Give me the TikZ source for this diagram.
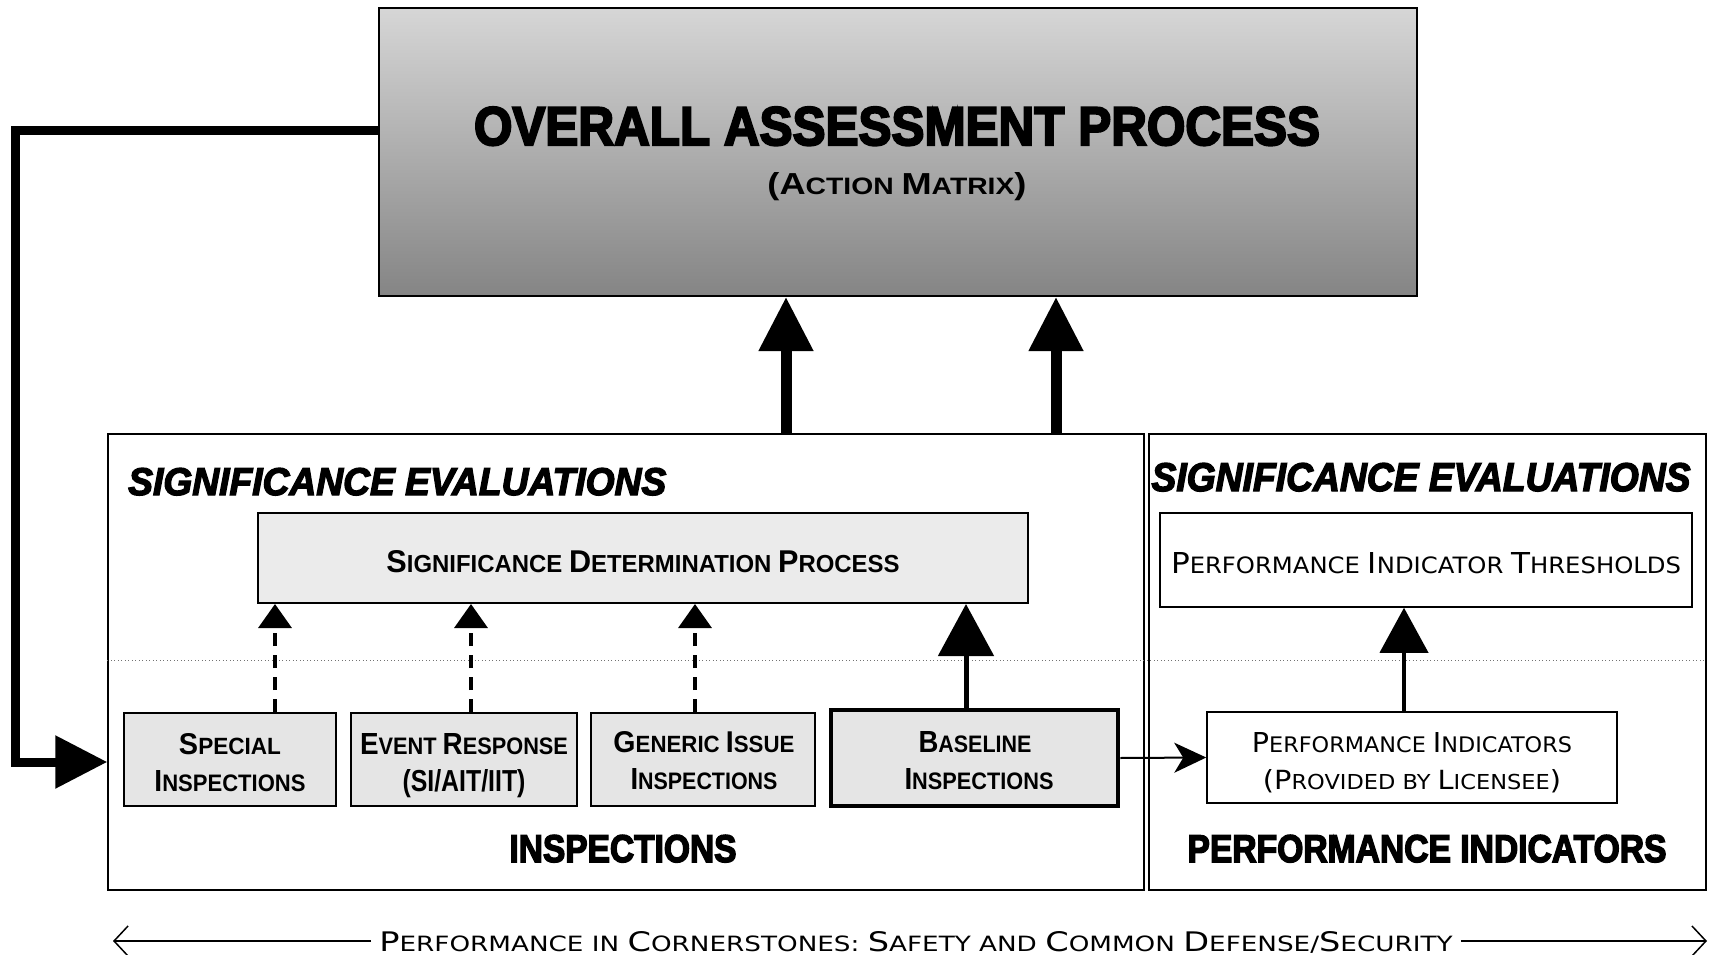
\documentclass[tikz,border=0pt]{standalone}
\usepackage{graphicx}
\usepackage{fontspec}
\usetikzlibrary{arrows.meta}
\setmainfont{Liberation Sans}
\newfontface\heavy{Liberation Sans Bold}[FakeBold=4]
\newfontface\heavyit{Liberation Sans Bold Italic}[FakeBold=3.5]
\newfontface\scbface{Liberation Sans Bold}
\newfontface\scrface{DejaVu Sans}
\newcommand\B[1]{{\fontsize{12.8}{14}\selectfont #1}}
\newcommand\SCB[1]{{\scbface\fontsize{10}{12}\selectfont #1}}
\newcommand\SCR[1]{{\scrface\fontsize{10}{12}\selectfont #1}}
\newcommand\fitt[3]{\resizebox{#1pt}{#2pt}{#3}}
\begin{document}
\begin{tikzpicture}[x=1pt,y=-1pt,
  gbox/.style={draw, line width=2pt, inner sep=0pt, fill=black!10},
  wbox/.style={draw, line width=1.5pt, inner sep=0pt, fill=white},
  txt/.style={inner sep=0pt, anchor=base},
  bigarrow/.style={line width=11pt, -{Triangle[length=54pt,width=52pt]}},
  fbarrow/.style={line width=9pt, line join=miter, -{Triangle[length=52pt,width=51pt]}},
  basearrow/.style={line width=5pt, -{Triangle[length=52pt,width=55pt]}},
  dasharrow/.style={line width=3.5pt, dash pattern=on 13pt off 9pt, -{Triangle[length=24pt,width=33pt]}},
  piarrow/.style={line width=4pt, -{Triangle[length=45pt,width=48pt]}},
  thinarrow/.style={line width=2pt, -{Stealth[length=32pt,width=30pt,inset=9pt]}},
  barb/.style={line width=1.5pt, -{Straight Barb[length=14pt,width=30pt,line width=1.5pt]}}
]
\useasboundingbox (0,0) rectangle (1714,955);

% top box
\node[draw, line width=2pt, inner sep=0pt, minimum width=1038pt, minimum height=288pt,
      top color=black!16, bottom color=black!48] (oap) at (898,152) {};
\node[txt] (title) at (897,145) {\fitt{846}{38}{\heavy OVERALL ASSESSMENT PROCESS}};
\node[txt] (action) at (897,194) {\fitt{259}{22}{\SCB{\B{(A}CTION \B{M}ATRIX\B{)}}}};

% lower frames
\node[wbox, fill=none, minimum width=1036pt, minimum height=456pt] (insp) at (626,662) {};
\node[wbox, fill=none, minimum width=557pt, minimum height=456pt] (pibox) at (1427.5,662) {};

% dotted separator
\draw[line width=1pt, black!55, dash pattern=on 1pt off 2.5pt] (insp.west |- 0,660) -- (pibox.east |- 0,660);

% section headings
\node[txt, anchor=base west] (se1) at (128,495) {\fitt{538}{27}{\heavyit SIGNIFICANCE EVALUATIONS}};
\node[txt] (se2) at (1421,491) {\fitt{539}{28}{\heavyit SIGNIFICANCE EVALUATIONS}};
\node[txt] (insph) at (623,862) {\fitt{227}{27}{\heavy INSPECTIONS}};
\node[txt] (pih) at (1427,862) {\fitt{479}{27}{\heavy PERFORMANCE INDICATORS}};

% SDP box
\node[gbox, fill=black!8, minimum width=770pt, minimum height=90pt] (sdp) at (643,558) {};
\node[txt] (sdpt) at (643,572) {\fitt{513}{22}{\SCB{\B{S}IGNIFICANCE \B{D}ETERMINATION \B{P}ROCESS}}};

% PIT box
\node[wbox, minimum width=532pt, minimum height=94pt] (pit) at (1426,560) {};
\node[txt] (pitt) at (1426,573) {\fitt{510}{21}{\SCR{\B{P}ERFORMANCE \B{I}NDICATOR \B{T}HRESHOLDS}}};

% inspection boxes
\node[gbox, minimum width=212pt, minimum height=93pt] (spec) at (230,759.5) {};
\node[txt] (spec1) at (230,754) {\fitt{102}{21}{\SCB{\B{S}PECIAL}}};
\node[txt] (spec2) at (230,791) {\fitt{151}{21}{\SCB{\B{I}NSPECTIONS}}};

\node[gbox, minimum width=226pt, minimum height=93pt] (evt) at (464,759.5) {};
\node[txt] (evt1) at (464,754) {\fitt{208}{21}{\SCB{\B{E}VENT \B{R}ESPONSE}}};
\node[txt] (evt2) at (464,791) {\fitt{123}{22}{\SCB{\B{(SI/AIT/IIT)}}}};

\node[gbox, minimum width=224pt, minimum height=93pt] (gen) at (703,759.5) {};
\node[txt] (gen1) at (704,752) {\fitt{181}{21}{\SCB{\B{G}ENERIC \B{I}SSUE}}};
\node[txt] (gen2) at (704,789) {\fitt{147}{21}{\SCB{\B{I}NSPECTIONS}}};

\node[gbox, line width=4.5pt, minimum width=287pt, minimum height=96pt] (base) at (974.5,758) {};
\node[txt] (base1) at (975,752) {\fitt{113}{21}{\SCB{\B{B}ASELINE}}};
\node[txt] (base2) at (979,789) {\fitt{149}{21}{\SCB{\B{I}NSPECTIONS}}};

% PI box
\node[wbox, minimum width=410pt, minimum height=91pt] (pi) at (1412,757.5) {};
\node[txt] (pi1) at (1412,752) {\fitt{320}{20}{\SCR{\B{P}ERFORMANCE \B{I}NDICATORS}}};
\node[txt] (pi2) at (1412,789) {\fitt{298}{20}{\SCR{\B{(P}ROVIDED BY \B{L}ICENSEE\B{)}}}};

% arrows
\draw[bigarrow] (786,0 |- insp.north) -- (786,0 |- oap.south);
\draw[bigarrow] (1056,0 |- insp.north) -- (1056,0 |- oap.south);
\coordinate (fb1) at (15,131);
\coordinate (fb2) at (15,762);
\draw[fbarrow] (oap.west |- fb1) -- (fb1) -- (fb2) -- (insp.west |- fb2);

\draw[dasharrow] (275,0 |- spec.north) -- (275,0 |- sdp.south);
\draw[dasharrow] (471,0 |- evt.north) -- (471,0 |- sdp.south);
\draw[dasharrow] (695,0 |- gen.north) -- (695,0 |- sdp.south);
\draw[basearrow] (966,0 |- base.north) -- (966,0 |- sdp.south);
\draw[piarrow] (1404,0 |- pi.north) -- (1404,0 |- pit.south);
\draw[thinarrow] (base.east) -- (pi.west);

% bottom
\node[txt, inner xsep=8pt] (btxt) at (916,951) {\fitt{1073}{20}{\SCR{\B{P}ERFORMANCE IN \B{C}ORNERSTONES: \B{S}AFETY AND \B{C}OMMON \B{D}EFENSE/\B{S}ECURITY}}};
\coordinate (bl) at (113,941);
\coordinate (br) at (1707,941);
\draw[barb] (btxt.west |- bl) -- (bl);
\draw[barb] (btxt.east |- br) -- (br);
\end{tikzpicture}
\end{document}
